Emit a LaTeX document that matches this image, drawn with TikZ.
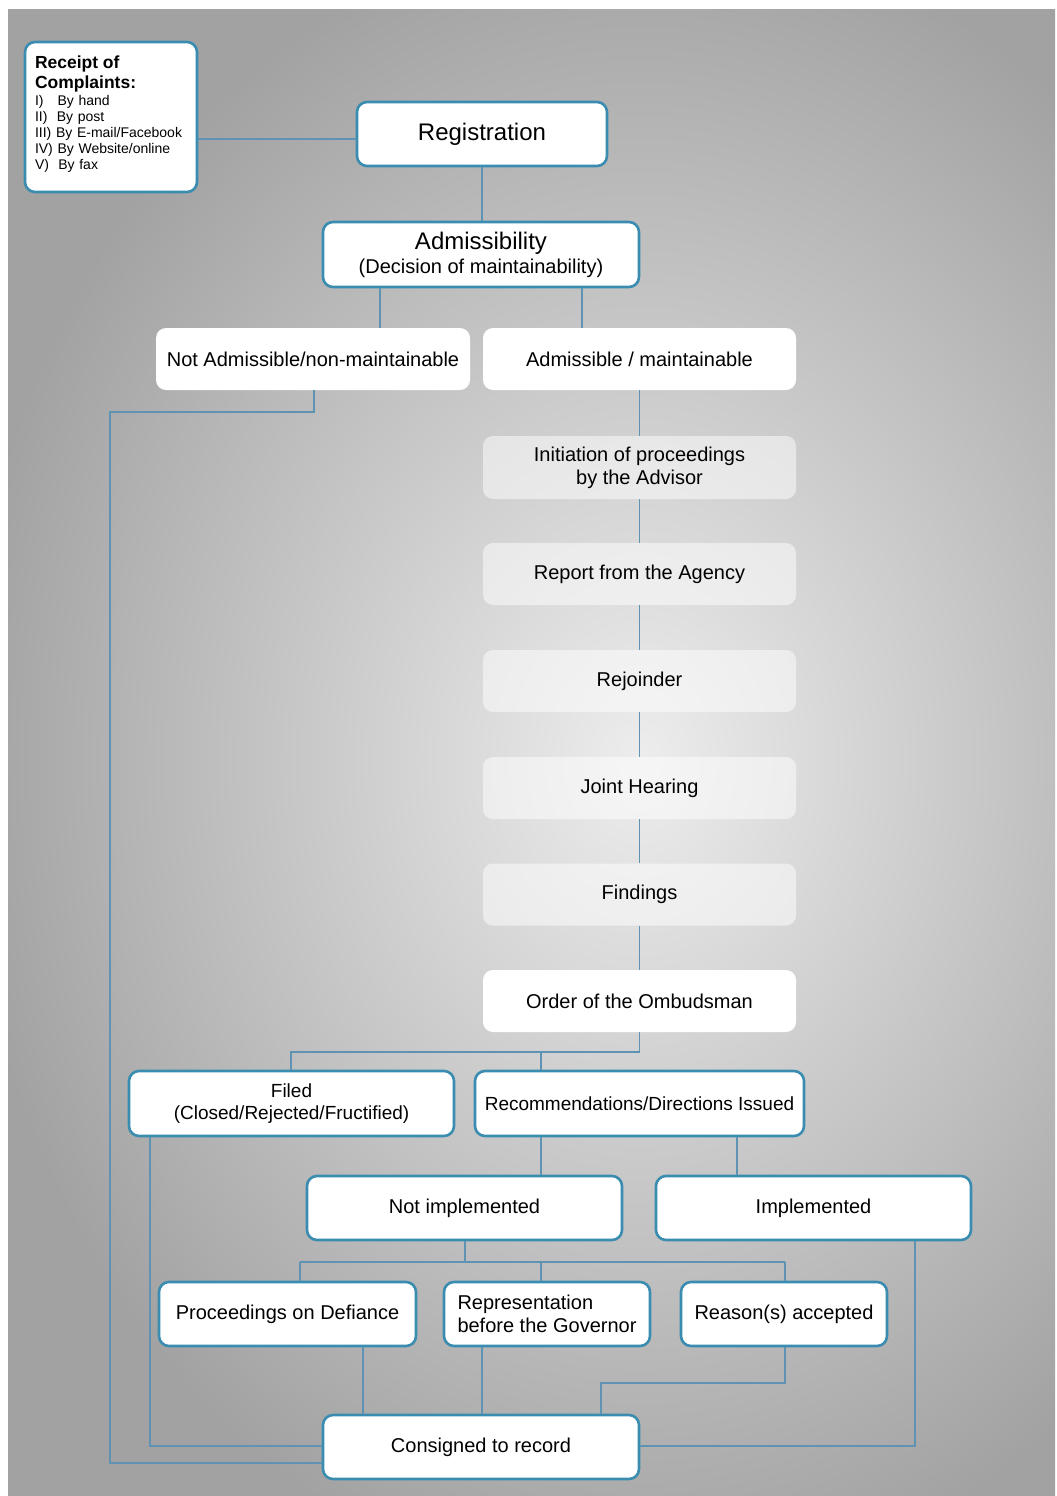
\documentclass[tikz,border=0pt]{standalone}
\usepackage{fontspec}
\setmainfont{Liberation Sans}
\usetikzlibrary{calc}
\definecolor{bordc}{HTML}{3A8DB0}
\definecolor{linec}{HTML}{5F93B3}
\definecolor{bgin}{HTML}{EDEDED}
\definecolor{bgout}{HTML}{A2A2A2}
\tikzset{
  box/.style={draw=bordc, line width=2.6pt, rounded corners=10pt, fill=white,
    inner sep=0pt, align=center, font=\fontsize{20}{24}\selectfont},
  plainbox/.style={rounded corners=10pt, fill=white, inner sep=0pt, align=center,
    font=\fontsize{20}{24}\selectfont},
  greybox/.style={rounded corners=10pt, fill=white, fill opacity=0.5, text opacity=1,
    inner sep=0pt, align=center, font=\fontsize{20}{24}\selectfont},
  conn/.style={draw=linec, line width=1.6pt}
}
\newcommand{\bigln}[1]{\rule[-5pt]{0pt}{20pt}\fontsize{17.5}{20}\selectfont\bfseries #1}
\newcommand{\smln}[1]{\rule[-4pt]{0pt}{16pt}\fontsize{14}{16}\selectfont #1}
\begin{document}
\begin{tikzpicture}[x=1pt,y=-1pt]
\useasboundingbox (0,0) rectangle (1057,1496);
\fill[white] (0,0) rectangle (1057,1496);
\begin{scope}
\clip (8,10) rectangle (1055,1496);
\shade[inner color=bgin, outer color=bgout] (-40,-80) rectangle (1320,1600);
\end{scope}

% nodes
\node[box, minimum width=172pt, minimum height=150pt, text width=152pt, align=left,
  font=\fontsize{14}{16}\selectfont] (rec) at (111,117)
 {\renewcommand{\arraystretch}{0}\begin{tabular}{@{}l@{}}
  \bigln{Receipt of}\\
  \bigln{Complaints:}\\
  \smln{I)\ \ \ By hand}\\
  \smln{II)\ \ By post}\\
  \smln{III) By E-mail/Facebook}\\
  \smln{IV) By Website/online}\\
  \smln{V)\ \ By fax}\\
  \rule{0pt}{8pt}
 \end{tabular}};
\node[box, minimum width=250pt, minimum height=64pt, font=\fontsize{24}{28}\selectfont] (reg) at (482,134) {Registration};
\node[box, minimum width=316pt, minimum height=65pt] (adm) at (481,254.5)
 {{\fontsize{24}{26}\selectfont Admissibility}\\{\fontsize{20}{22}\selectfont (Decision of maintainability)}};
\node[plainbox, minimum width=314pt, minimum height=62pt] (na) at (313,359) {Not Admissible/non-maintainable};
\node[plainbox, minimum width=313pt, minimum height=62pt] (ad) at (639.5,359) {Admissible / maintainable};
\node[greybox, minimum width=313pt, minimum height=63pt, font=\fontsize{20}{23}\selectfont] (init) at (639.5,467.5) {Initiation of proceedings\\by the Advisor};
\node[greybox, minimum width=313pt, minimum height=62pt] (rep) at (639.5,574) {Report from the Agency};
\node[greybox, minimum width=313pt, minimum height=62pt] (rej) at (639.5,681) {Rejoinder};
\node[greybox, minimum width=313pt, minimum height=62pt] (jh) at (639.5,788) {Joint Hearing};
\node[greybox, minimum width=313pt, minimum height=62pt] (fin) at (639.5,894.5) {Findings};
\node[plainbox, minimum width=313pt, minimum height=62pt] (ord) at (639.5,1001) {Order of the Ombudsman};
\node[box, minimum width=325pt, minimum height=65pt, font=\fontsize{19}{22}\selectfont] (filed) at (291.5,1103.5) {Filed\\(Closed/Rejected/Fructified)};
\node[box, minimum width=329pt, minimum height=65pt, font=\fontsize{19}{22}\selectfont] (recs) at (639.5,1103.5) {Recommendations/Directions Issued};
\node[box, minimum width=315pt, minimum height=64pt] (ni) at (464.5,1208) {Not implemented};
\node[box, minimum width=315pt, minimum height=64pt] (imp) at (813.5,1208) {Implemented};
\node[box, minimum width=257pt, minimum height=64pt] (pd) at (287.5,1314) {Proceedings on Defiance};
\node[box, minimum width=206pt, minimum height=64pt, align=left, font=\fontsize{20}{23}\selectfont] (repg) at (547,1314) {Representation\\before the Governor};
\node[box, minimum width=206pt, minimum height=64pt] (rsn) at (784,1314) {Reason(s) accepted};
\node[box, minimum width=316pt, minimum height=64pt] (cons) at (481,1447) {Consigned to record};

% connectors
\draw[conn] (rec.east |- 0,139) -- (reg.west |- 0,139);
\draw[conn] (reg.south) -- (reg.south |- adm.north);
\draw[conn] (adm.south -| 380,0) -- (na.north -| 380,0);
\draw[conn] (adm.south -| 582,0) -- (ad.north -| 582,0);
\draw[conn] (na.south -| 314,0) -- (314,412) -- (110,412) -- (110,1463) -- (cons.west |- 0,1463);
\draw[conn] (ad.south) -- (init.north);
\draw[conn] (init.south) -- (rep.north);
\draw[conn] (rep.south) -- (rej.north);
\draw[conn] (rej.south) -- (jh.north);
\draw[conn] (jh.south) -- (fin.north);
\draw[conn] (fin.south) -- (ord.north);
\coordinate (oj) at (541,1052);
\draw[conn] (ord.south) -- (ord.south |- oj) -- (291,1052) -- (filed.north -| 291,0);
\draw[conn] (oj) -- (recs.north -| oj);
\draw[conn] (filed.south -| 150,0) -- (150,1446) -- (cons.west |- 0,1446);
\draw[conn] (recs.south -| 541,0) -- (ni.north -| 541,0);
\draw[conn] (recs.south -| 737,0) -- (imp.north -| 737,0);
\draw[conn] (imp.south -| 915,0) -- (915,1446) -- (cons.east |- 0,1446);
\coordinate (nj) at (465,1262);
\draw[conn] (ni.south -| nj) -- (nj);
\draw[conn] (300,1262) -- (785,1262);
\draw[conn] (300,1262) -- (pd.north -| 300,0);
\draw[conn] (541,1262) -- (repg.north -| 541,0);
\draw[conn] (785,1262) -- (rsn.north -| 785,0);
\draw[conn] (pd.south -| 363,0) -- (cons.north -| 363,0);
\draw[conn] (repg.south -| 482,0) -- (cons.north -| 482,0);
\draw[conn] (rsn.south -| 785,0) -- (785,1383) -- (601,1383) -- (cons.north -| 601,0);
\end{tikzpicture}
\end{document}
